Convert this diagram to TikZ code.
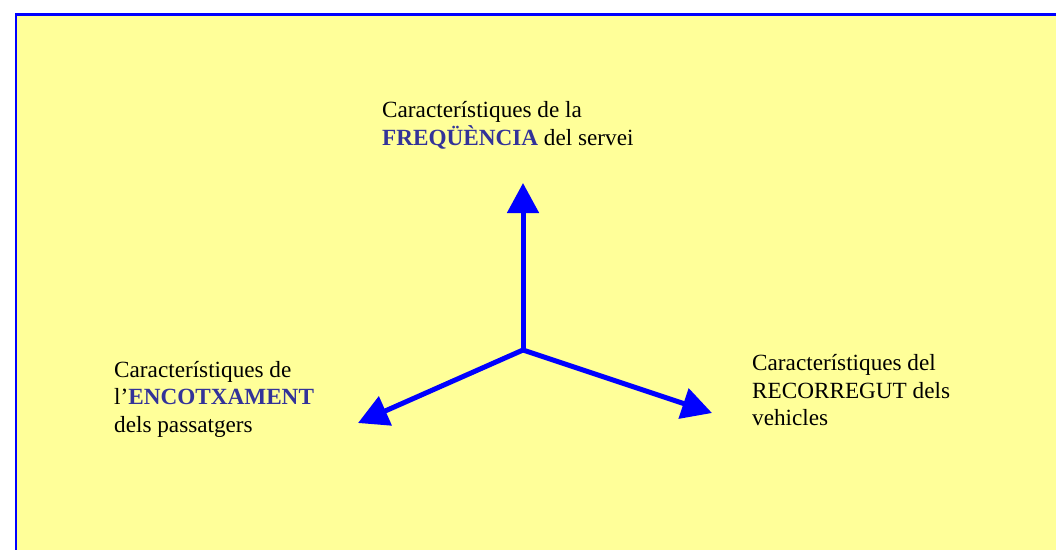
\documentclass[tikz,border=0pt]{standalone}
\usepackage{fontspec}
\setmainfont{Liberation Serif}
\usetikzlibrary{arrows.meta}
\definecolor{bgyellow}{HTML}{FFFF99}
\definecolor{framblue}{HTML}{0000FF}
\definecolor{txtblue}{HTML}{333399}
\tikzset{
  lbl/.style={font=\fontsize{23.2}{27.3}\selectfont, align=left, anchor=base west, inner sep=0pt},
  bigarrow/.style={draw=framblue, line width=5pt, -{Triangle[width=31pt,length=30pt]}},
}
\newcommand{\hl}[1]{\textcolor{txtblue}{\textbf{#1}}}
\begin{document}
\begin{tikzpicture}[x=1pt,y=-1pt]
\useasboundingbox (0,0) rectangle (1056,549);
\clip (0,0) rectangle (1056,549);
\draw[draw=framblue, fill=bgyellow, line width=2.4pt] (16,14.5) rectangle (1075,570);
\node[lbl] (top) at (382,145) {Característiques de la\\\hl{FREQÜÈNCIA} del servei};
\node[lbl] (left) at (114,432) {Característiques de\\l’\hl{ENCOTXAMENT}\\dels passatgers};
\node[lbl] (right) at (752,425.5) {Característiques del\\RECORREGUT dels\\vehicles};
\coordinate (c) at (523,350);
\coordinate (tu) at (523,183);
\coordinate (tl) at (358,423);
\coordinate (tr) at (712,413);
\draw[bigarrow] (c) -- (tu);
\draw[bigarrow] (c) -- (tl);
\draw[bigarrow] (c) -- (tr);
\end{tikzpicture}
\end{document}
